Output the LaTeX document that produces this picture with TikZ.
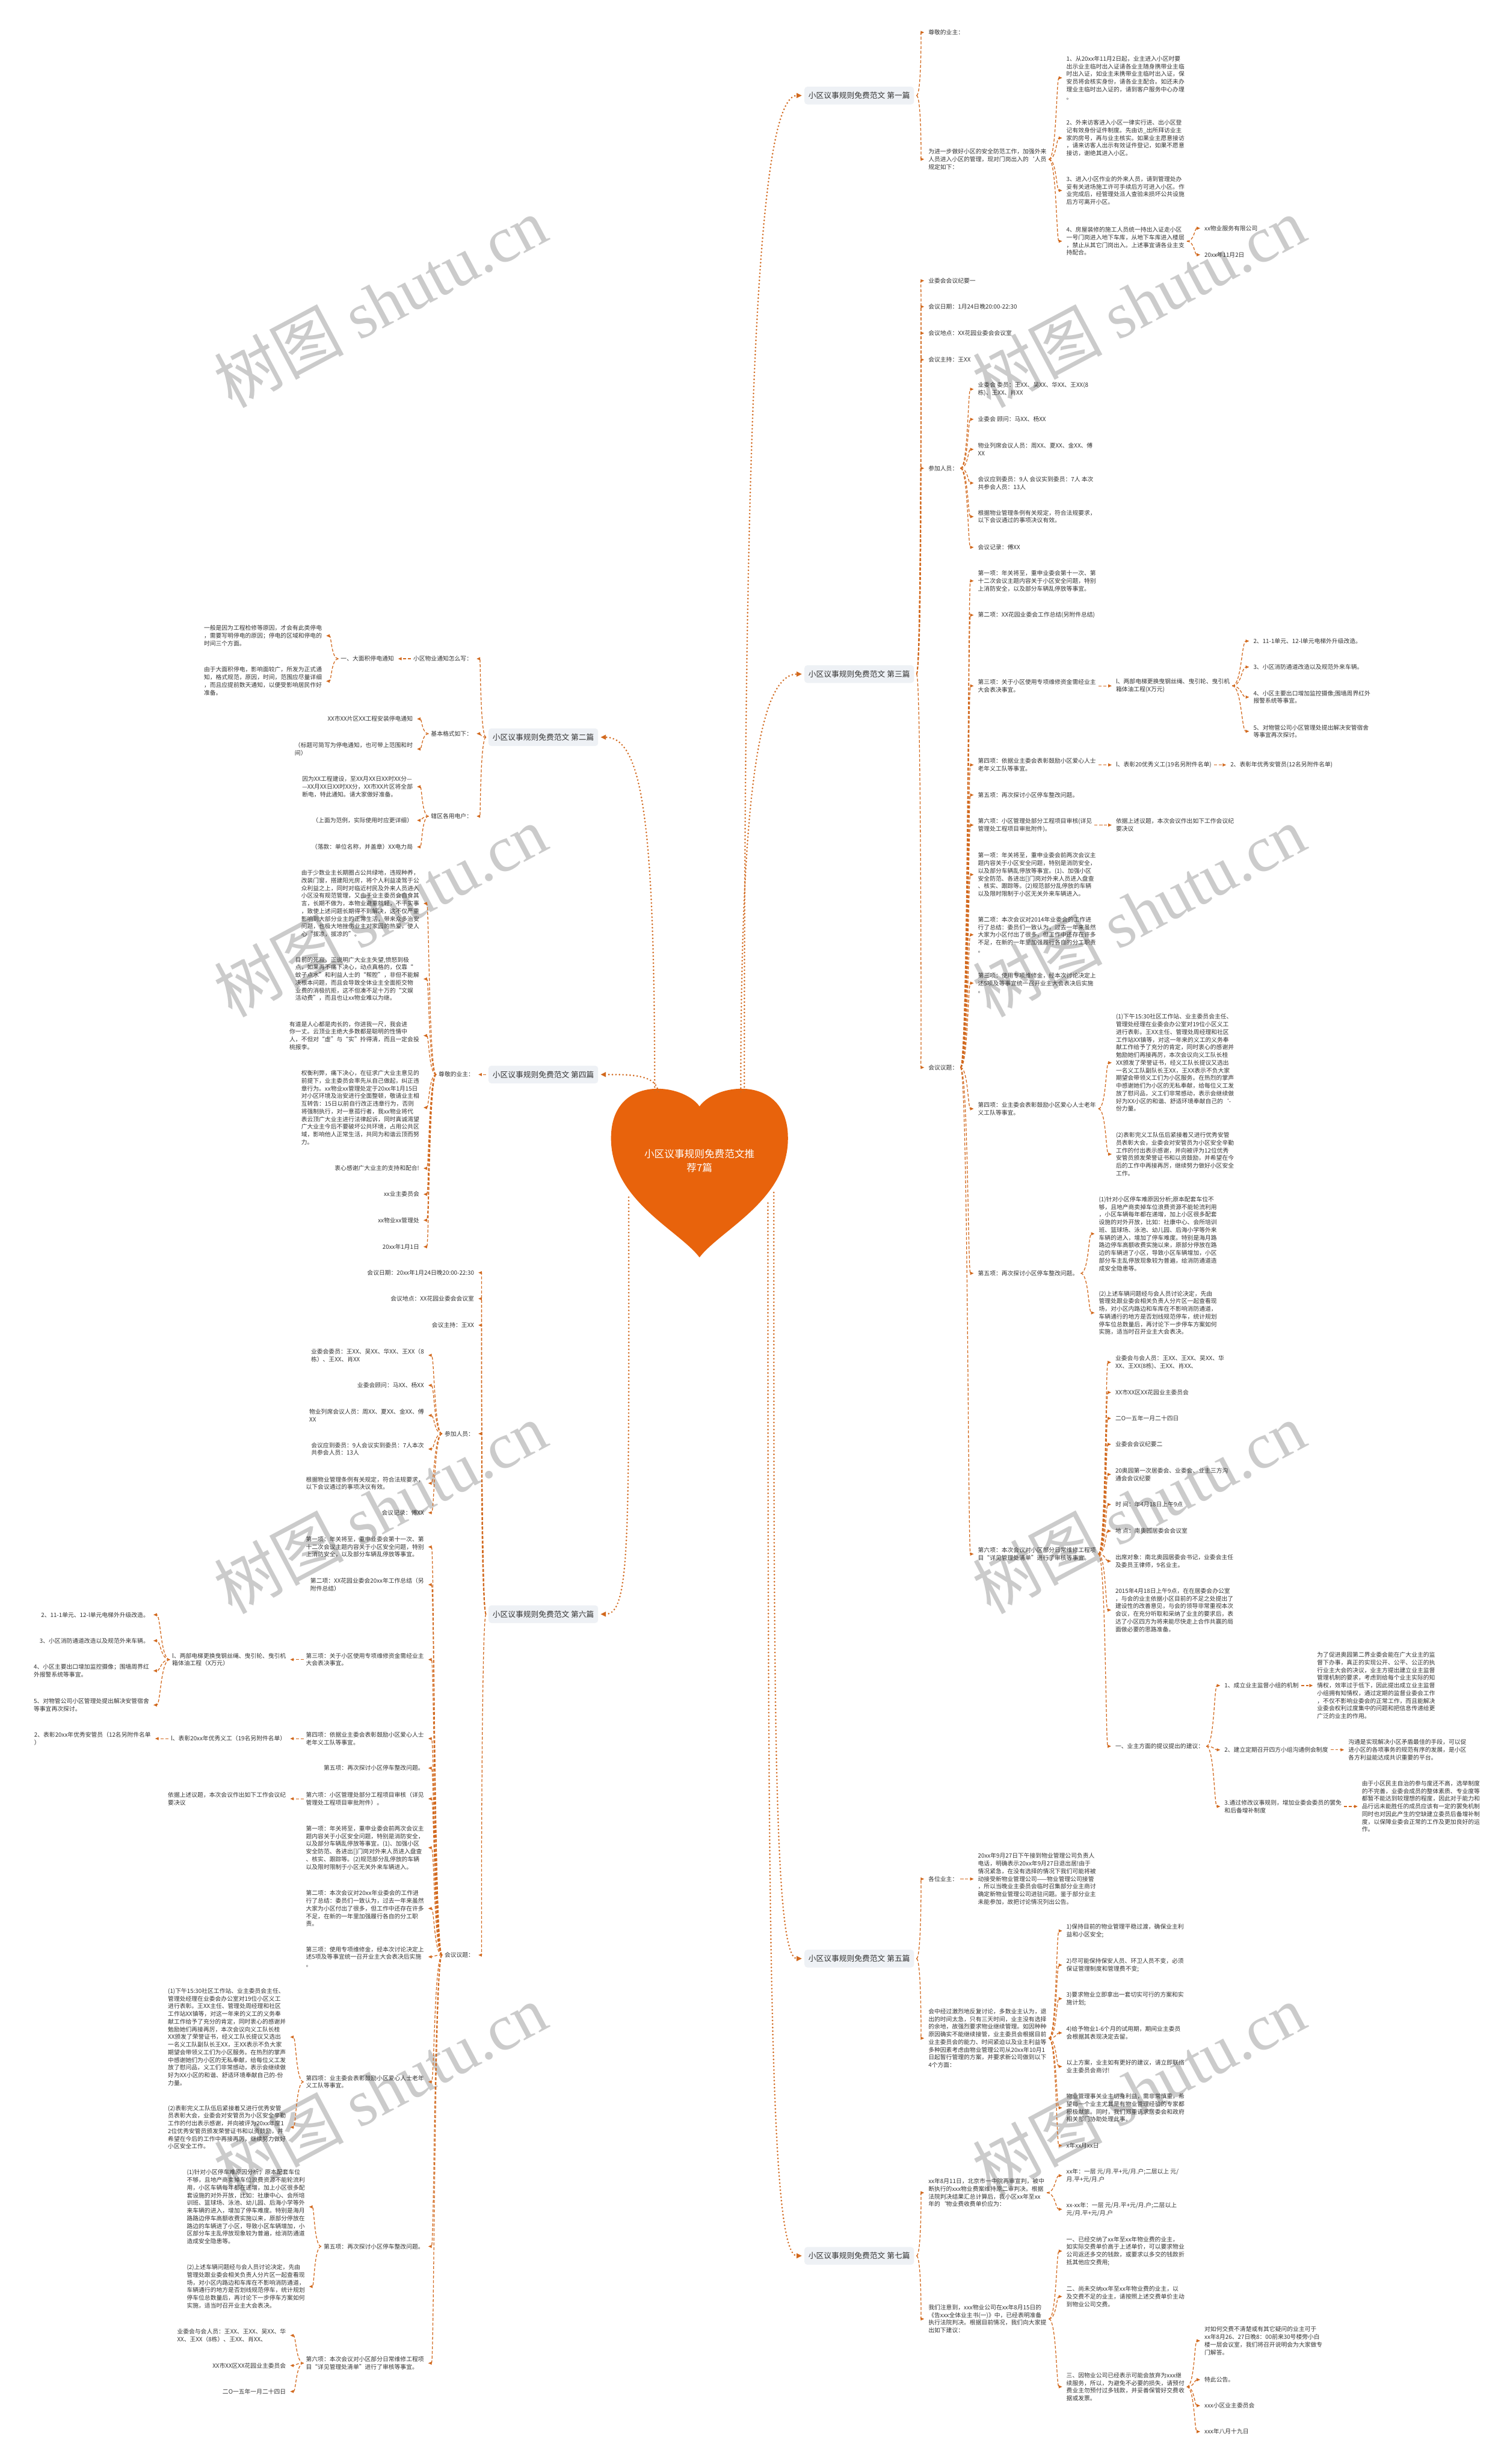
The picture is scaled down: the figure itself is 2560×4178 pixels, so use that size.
\documentclass[tikz,border=0pt]{standalone}
\usepackage{fontspec}
\setmainfont{Noto Sans CJK SC}
\newfontfamily\wmserif{Liberation Serif}
\usetikzlibrary{arrows.meta,calc}
\definecolor{linec}{HTML}{D2691E}
\definecolor{txtc}{HTML}{333333}
\definecolor{lblc}{HTML}{EEF1F5}
\definecolor{heartc}{HTML}{E8630C}
\definecolor{wmc}{HTML}{CBCBCB}
\newcommand\ftxt{\fontsize{10pt}{13pt}\selectfont}
\newcommand\flbl{\fontsize{13pt}{16pt}\selectfont}
\newcommand\fwm{\fontsize{110pt}{110pt}\selectfont}
\newcommand\RC[2]{\draw[conn] let \p1=(#1.east), \p2=(#2.west), \n1={(\x1+\x2)/2} in (\x1+4pt,\y1) .. controls (\n1,\y1) and (\n1,\y2) .. (\x2-7pt,\y2);}
\newcommand\LC[2]{\draw[conn] let \p1=(#1.west), \p2=(#2.east), \n1={(\x1+\x2)/2} in (\x1-4pt,\y1) .. controls (\n1,\y1) and (\n1,\y2) .. (\x2+7pt,\y2);}
\tikzset{
  txt/.style={inner sep=0pt, align=left, font=\ftxt, text=txtc},
  rt/.style={txt, anchor=west},
  lt/.style={txt, anchor=east},
  lbl/.style={fill=lblc, rounded corners=5pt, inner xsep=7pt, minimum height=30pt, font=\flbl, text=txtc},
  conn/.style={draw=linec, line width=1.3pt, dash pattern=on 5pt off 3pt, -{Triangle[length=6pt,width=5pt]}},
  hconn/.style={draw=linec, line width=3pt, line cap=round, dash pattern=on 0pt off 6pt, -{Triangle[length=9pt,width=8pt]}},
  wm/.style={font=\fwm, text=wmc, rotate=28, inner sep=0pt}
}
\begin{document}
\begin{tikzpicture}[x=1pt,y=1pt]
\fill[white] (0,0) rectangle (2560,-4178);
\useasboundingbox (0,0) rectangle (2560,-4178);

% watermarks
\node[wm] (wm1) at (645,-512) {树图 {\wmserif shutu.cn}};
\node[wm] (wm2) at (1931,-512) {树图 {\wmserif shutu.cn}};
\node[wm] (wm3) at (645,-1545) {树图 {\wmserif shutu.cn}};
\node[wm] (wm4) at (1931,-1545) {树图 {\wmserif shutu.cn}};
\node[wm] (wm5) at (645,-2557) {树图 {\wmserif shutu.cn}};
\node[wm] (wm6) at (1931,-2557) {树图 {\wmserif shutu.cn}};
\node[wm] (wm7) at (645,-3543) {树图 {\wmserif shutu.cn}};
\node[wm] (wm8) at (1931,-3543) {树图 {\wmserif shutu.cn}};

% heart
\fill[heartc] (1186,-1876) .. controls (1215,-1835) and (1336,-1822) .. (1336,-1930)
  .. controls (1336,-2035) and (1222,-2085) .. (1186,-2132)
  .. controls (1150,-2085) and (1036,-2035) .. (1036,-1930)
  .. controls (1036,-1822) and (1157,-1835) .. cycle;
\node[text=white, font=\fontsize{17pt}{23pt}\selectfont, align=center, inner sep=0pt] (H) at (1186,-1968) {小区议事规则免费范文推\\荐7篇};
\coordinate (hR1) at (1262,-1849);
\coordinate (hR3) at (1256,-1851);
\coordinate (hR5) at (1312,-2022);
\coordinate (hR7) at (1302,-2040);
\coordinate (hL2) at (1110,-1849);
\coordinate (hL4) at (1116,-1851);
\coordinate (hL6) at (1066,-2030);

% branch labels
\node[lbl, anchor=east] (R1) at (1550,-162) {小区议事规则免费范文 第一篇};
\node[lbl, anchor=east] (R3) at (1550,-1143) {小区议事规则免费范文 第三篇};
\node[lbl, anchor=east] (R5) at (1550,-3321) {小区议事规则免费范文 第五篇};
\node[lbl, anchor=east] (R7) at (1550,-3825) {小区议事规则免费范文 第七篇};
\node[lbl, anchor=west] (L2) at (828,-1250) {小区议事规则免费范文 第二篇};
\node[lbl, anchor=west] (L4) at (828,-1822) {小区议事规则免费范文 第四篇};
\node[lbl, anchor=west] (L6) at (828,-2737) {小区议事规则免费范文 第六篇};

\draw[hconn] (hR1) .. controls (1262,-700) and (1285,-162) .. ([xshift=-4pt]R1.west);
\draw[hconn] (hR3) .. controls (1256,-1400) and (1280,-1143) .. ([xshift=-4pt]R3.west);
\draw[hconn] (hR5) .. controls (1312,-2900) and (1312,-3321) .. ([xshift=-4pt]R5.west);
\draw[hconn] (hR7) .. controls (1302,-3300) and (1305,-3825) .. ([xshift=-4pt]R7.west);
\draw[hconn] (hL2) .. controls (1110,-1400) and (1090,-1250) .. ([xshift=4pt]L2.east);
\draw[hconn] (hL4) .. controls (1112,-1822) and (1070,-1822) .. ([xshift=4pt]L4.east);
\draw[hconn] (hL6) .. controls (1066,-2600) and (1070,-2737) .. ([xshift=4pt]L6.east);

% ===== Branch 1 =====
\node[rt] (a1) at (1574,-55) {尊敬的业主：};
\node[rt] (a2) at (1574,-270) {为进一步做好小区的安全防范工作，加强外来\\人员进入小区的管理，现对门岗出入的`人员\\规定如下：};
\node[rt] (a21) at (1808,-132) {1、从20xx年11月2日起，业主进入小区时要\\出示业主临时出入证请各业主随身携带业主临\\时出入证，如业主未携带业主临时出入证，保\\安员将会核实身份，请各业主配合。如还未办\\理业主临时出入证的，请到客户服务中心办理\\。};
\node[rt] (a22) at (1808,-234) {2、外来访客进入小区一律实行进、出小区登\\记有效身份证件制度。先由访\_出所拜访业主\\家的房号，再与业主核实。如果业主愿意接访\\，请来访客人出示有效证件登记，如果不愿意\\接访，谢绝其进入小区。};
\node[rt] (a23) at (1808,-323) {3、进入小区作业的外来人员，请到管理处办\\妥有关进场施工许可手续后方可进入小区。作\\业完成后，经管理处派人查验未损坏公共设施\\后方可离开小区。};
\node[rt] (a24) at (1808,-409) {4、房屋装修的施工人员统一持出入证走小区\\一号门岗进入地下车库，从地下车库进入楼层\\，禁止从其它门岗出入。上述事宜请各业主支\\持配合。};
\node[rt] (a241) at (2042,-387) {xx物业服务有限公司};
\node[rt] (a242) at (2042,-432) {20xx年11月2日};
\foreach \c in {a1,a2} {\RC{R1}{\c}}
\foreach \c in {a21,a22,a23,a24} {\RC{a2}{\c}}
\foreach \c in {a241,a242} {\RC{a24}{\c}}

% ===== Branch 3 =====
\node[rt] (b1) at (1574,-476) {业委会会议纪要一};
\node[rt] (b2) at (1574,-520) {会议日期：1月24日晚20:00-22:30};
\node[rt] (b3) at (1574,-565) {会议地点：XX花园业委会会议室};
\node[rt] (b4) at (1574,-610) {会议主持：王XX};
\node[rt] (b5) at (1574,-794) {参加人员：};
\node[rt] (b6) at (1574,-1810) {会议议题：};
\node[rt] (b51) at (1658,-660) {业委会 委员：王XX、吴XX、华XX、王XX(8\\栋)、王XX、肖XX};
\node[rt] (b52) at (1658,-711) {业委会 顾问：马XX、杨XX};
\node[rt] (b53) at (1658,-762) {物业列席会议人员：周XX、夏XX、金XX、傅\\XX};
\node[rt] (b54) at (1658,-819) {会议应到委员：9人 会议实到委员：7人 本次\\共参会人员：13人};
\node[rt] (b55) at (1658,-876) {根据物业管理条例有关规定，符合法规要求，\\以下会议通过的事项决议有效。};
\node[rt] (b56) at (1658,-928) {会议记录：傅XX};
\node[rt] (c1) at (1658,-985) {第一项：年关将至，重申业委会第十一次、第\\十二次会议主题内容关于小区安全问题，特别\\上消防安全，以及部分车辆乱停放等事宜。};
\node[rt] (c2) at (1658,-1043) {第二项：XX花园业委会工作总结(另附件总结)};
\node[rt] (c3) at (1658,-1163) {第三项：关于小区使用专项维修资金需经业主\\大会表决事宜。};
\node[rt] (c31) at (1892,-1163) {l、两部电梯更换曳钢丝绳、曳引轮、曳引机\\箱体油工程(X万元)};
\node[rt] (c311) at (2125,-1087) {2、11-1单元、12-l单元电梯外升级改造。};
\node[rt] (c312) at (2125,-1131) {3、小区消防通道改造以及规范外来车辆。};
\node[rt] (c313) at (2125,-1182) {4、小区主要出口增加监控摄像;围墙周界红外\\报警系统等事宜。};
\node[rt] (c314) at (2125,-1240) {5、对物管公司小区管理处提出解决安管宿舍\\等事宜再次探讨。};
\node[rt] (c4) at (1658,-1297) {第四项：依据业主委会表彰鼓励小区爱心人士\\老年义工队等事宜。};
\node[rt] (c41) at (1892,-1297) {l、表彰20优秀义工(19名另附件名单)};
\node[rt] (c411) at (2086,-1297) {2、表彰年优秀安管员(12名另附件名单)};
\node[rt] (c5) at (1658,-1348) {第五项：再次探讨小区停车整改问题。};
\node[rt] (c6) at (1658,-1399) {第六项：小区管理处部分工程项目审核(详见\\管理处工程项目审批附件)。};
\node[rt] (c61) at (1892,-1399) {依据上述议题，本次会议作出如下工作会议纪\\要决议};
\node[rt] (c7) at (1658,-1483) {第一项：年关将至，重申业委会前两次会议主\\题内容关于小区安全问题，特别是消防安全，\\以及部分车辆乱停放等事宜。(1)、加强小区\\安全防范、各进出{[]}门岗对外来人员进入盘查\\、核实、跟踪等。(2)规范部分乱停放的车辆\\以及限时限制于小区无关外来车辆进入。};
\node[rt] (c8) at (1658,-1585) {第二项：本次会议对2014年业委会的工作进\\行了总结：委员们一致认为，过去一年来虽然\\大家为小区付出了很多，但工作中还存在许多\\不足，在新的一年里加强履行各自的分工职责\\。};
\node[rt] (c9) at (1658,-1667) {第三项：使用专项维修金，经本次讨论决定上\\述5项及等事宜统一召开业主大会表决后实施\\。};
\node[rt] (c10) at (1658,-1880) {第四项：业主委会表彰鼓励小区爱心人士老年\\义工队等事宜。};
\node[rt] (c101) at (1892,-1802) {(1)下午15:30社区工作站、业主委员会主任、\\管理处经理在业委会办公室对19位小区义工\\进行表彰。王XX主任、管理处周经理和社区\\工作站XX镇等，对这一年来的义工的义务奉\\献工作给予了充分的肯定，同时衷心的感谢并\\勉励她们再接再厉，本次会议向义工队长桂\\XX颁发了荣誉证书，经义工队长提议又选出\\一名义工队副队长王XX，王XX表示不负大家\\期望会带领义工们为小区服务。在热烈的掌声\\中感谢她们为小区的无私奉献，给每位义工发\\放了慰问品，义工们非常感动，表示会继续做\\好为XX小区的和谐、舒适环境奉献自己的`-\\份力量。};
\node[rt] (c102) at (1892,-1957) {(2)表彰完义工队伍后紧接着又进行优秀安管\\员表彰大会，业委会对安管员为小区安全辛勤\\工作的付出表示感谢，并向被评为12位优秀\\安管员颁发荣誉证书和以资鼓励，并希望在今\\后的工作中再接再厉，继续努力做好小区安全\\工作。};
\node[rt] (c11) at (1658,-2159) {第五项：再次探讨小区停车整改问题。};
\node[rt] (c111) at (1863,-2092) {(1)针对小区停车难原因分析;原本配套车位不\\够，且地产商卖掉车位浪费资源不能轮流利用\\，小区车辆每年都在递增，加上小区很多配套\\设施的对外开放，比如：社康中心、会所培训\\班、篮球场、泳池、幼儿园、后海小学等外来\\车辆的进入，增加了停车难度。特别是海月路\\路边停车高额收费实施以来，原部分停放在路\\边的车辆进了小区，导致小区车辆增加，小区\\部分车主乱停放现象较为普遍，给消防通道造\\成安全隐患等。};
\node[rt] (c112) at (1863,-2226) {(2)上述车辆问题经与会人员讨论决定，先由\\管理处跟业委会相关负责人分片区一起查看现\\场，对小区内路边和车库在不影响消防通道，\\车辆通行的地方是否划线规范停车，统计规划\\停车位总数量后，再讨论下一步停车方案如何\\实施，适当时召开业主大会表决。};
\node[rt] (c12) at (1658,-2635) {第六项：本次会议对小区部分日常维修工程项\\目“详见管理处清单”进行了审核等事宜。};
\node[rt] (c121) at (1891,-2310) {业委会与会人员：王XX、王XX、吴XX、华\\XX、王XX(8栋)、王XX、肖XX、};
\node[rt] (c122) at (1891,-2361) {XX市XX区XX花园业主委员会};
\node[rt] (c123) at (1891,-2405) {二O一五年一月二十四日};
\node[rt] (c124) at (1891,-2449) {业委会会议纪要二};
\node[rt] (c125) at (1891,-2500) {20奥园第一次居委会、业委会、业主三方沟\\通会会议纪要};
\node[rt] (c126) at (1891,-2551) {时 间：年4月18日上午9点};
\node[rt] (c127) at (1891,-2596) {地 点：南奥园居委会会议室};
\node[rt] (c128) at (1891,-2647) {出席对象：南北奥园居委会书记，业委会主任\\及委员王律师，9名业主。};
\node[rt] (c129) at (1891,-2730) {2015年4月18日上午9点，在在居委会办公室\\，与会的业主依据小区目前的不足之处提出了\\建设性的改善意见，与会的领导非常重视本次\\会议，在充分听取和采纳了业主的要求后，表\\达了小区四方为将来能尽快走上合作共赢的局\\面做必要的思路准备。};
\node[rt] (c1210) at (1891,-2961) {一、业主方面的提议提出的建议：};
\node[rt] (d1) at (2076,-2858) {1、成立业主监督小组的机制};
\node[rt] (d11) at (2233,-2858) {为了促进奥园第二界业委会能在广大业主的监\\督下办事，真正的实现公开、公平、公正的执\\行业主大会的决议，业主方提出建立业主监督\\管理机制的要求，考虑到给每个业主实际的知\\情权，效率过于低下，因此提出成立业主监督\\小组拥有知情权，通过定期的监督业委会工作\\，不仅不影响业委会的正常工作，而且能解决\\业委会权利过度集中的问题和把信息传递给更\\广泛的业主的作用。};
\node[rt] (d2) at (2076,-2967) {2、建立定期召开四方小组沟通例会制度};
\node[rt] (d21) at (2286,-2967) {沟通是实现解决小区矛盾最佳的手段，可以促\\进小区的各项事务的规范有序的发展，是小区\\各方利益能达成共识重要的平台。};
\node[rt] (d3) at (2076,-3063) {3.通过修改议事规则，增加业委会委员的罢免\\和后备增补制度};
\node[rt] (d31) at (2309,-3063) {由于小区民主自治的参与度还不高，选举制度\\的不完善，业委会成员的整体素质、专业度等\\都暂不能达到较理想的程度，因此对于能力和\\品行远未能胜任的成员应该有一定的罢免机制\\同时也对因此产生的空缺建立委员后备增补制\\度，以保障业委会正常的工作及更加良好的运\\作。};
\foreach \c in {b1,b2,b3,b4,b5,b6} {\RC{R3}{\c}}
\foreach \c in {b51,b52,b53,b54,b55,b56} {\RC{b5}{\c}}
\foreach \c in {c1,c2,c3,c4,c5,c6,c7,c8,c9,c10,c11,c12} {\RC{b6}{\c}}
\RC{c3}{c31}
\foreach \c in {c311,c312,c313,c314} {\RC{c31}{\c}}
\RC{c4}{c41} \RC{c41}{c411}
\RC{c6}{c61}
\RC{c10}{c101} \RC{c10}{c102}
\RC{c11}{c111} \RC{c11}{c112}
\foreach \c in {c121,c122,c123,c124,c125,c126,c127,c128,c129,c1210} {\RC{c12}{\c}}
\foreach \c in {d1,d2,d3} {\RC{c1210}{\c}}
\RC{d1}{d11} \RC{d2}{d21} \RC{d3}{d31}

% ===== Branch 5 =====
\node[rt] (e1) at (1574,-3186) {各位业主：};
\node[rt] (e11) at (1658,-3186) {20xx年9月27日下午接到物业管理公司负责人\\电话，明确表示20xx年9月27日退出居!由于\\情况紧急，在没有选择的情况下我们可能将被\\动接受新物业管理公司——物业管理公司接管\\，所以当晚业主委员会临时召集部分业主商讨\\确定新物业管理公司进驻问题。鉴于部分业主\\未能参加，故把讨论情况列出公告。};
\node[rt] (e2) at (1574,-3456) {会中经过激烈地反复讨论，多数业主认为，退\\出的时间太急，只有三天时间，业主没有选择\\的余地，故强烈要求物业继续管理。如因种种\\原因确实不能继续接管，业主委员会根据目前\\业主委员会的能力、时间紧迫以及业主利益等\\多种因素考虑由物业管理公司从20xx年10月1\\日起暂行管理的方案，并要求新公司做到以下\\4个方面：};
\node[rt] (e21) at (1808,-3274) {1)保持目前的物业管理平稳过渡，确保业主利\\益和小区安全;};
\node[rt] (e22) at (1808,-3332) {2)尽可能保持保安人员、环卫人员不变，必须\\保证管理制度和管理费不变;};
\node[rt] (e23) at (1808,-3389) {3)要求物业立即拿出一套切实可行的方案和实\\施计划;};
\node[rt] (e24) at (1808,-3447) {4)给予物业1-6个月的试用期，期间业主委员\\会根据其表现决定去留。};
\node[rt] (e25) at (1808,-3504) {以上方案，业主如有更好的建议，请立即联络\\业主委员会商讨!};
\node[rt] (e26) at (1808,-3574) {物业管理事关业主切身利益，需非常慎重，希\\望每一个业主尤其是有物业管理经验的专家都\\积极献策。同时，我们郑重请求居委会和政府\\相关部门协助处理此事。};
\node[rt] (e27) at (1808,-3638) {x年xx月xx日};
\foreach \c in {e1,e2} {\RC{R5}{\c}}
\RC{e1}{e11}
\foreach \c in {e21,e22,e23,e24,e25,e26,e27} {\RC{e2}{\c}}

% ===== Branch 7 =====
\node[rt] (f1) at (1574,-3718) {xx年8月11日，北京市一中院再审宣判，被中\\断执行的xxx物业费案维持原二审判决。根据\\法院判决结果汇总计算后，我小区xx年至xx\\年的`物业费收费单价应为：};
\node[rt] (f11) at (1808,-3689) {xx年：一层 元/月.平+元/月.户;二层以上 元/\\月.平+元/月.户};
\node[rt] (f12) at (1808,-3746) {xx-xx年：一层 元/月.平+元/月.户;二层以上\\元/月.平+元/月.户};
\node[rt] (f2) at (1574,-3932) {我们注意到，xxx物业公司在xx年8月15日的\\《告xxx全体业主书(一)》中，已经表明准备\\执行法院判决。根据目前情况，我们向大家提\\出如下建议：};
\node[rt] (f21) at (1808,-3817) {一、已经交纳了xx年至xx年物业费的业主，\\如实际交费单价高于上述单价，可以要求物业\\公司返还多交的钱款，或要求以多交的钱款折\\抵其他应交费用;};
\node[rt] (f22) at (1808,-3894) {二、尚未交纳xx年至xx年物业费的业主，以\\及交费不足的业主，请按照上述交费单价主动\\到物业公司交费。};
\node[rt] (f23) at (1808,-4047) {三、因物业公司已经表示可能会放弃为xxx继\\续服务，所以，为避免不必要的损失，请预付\\费业主勿预付过多钱款，并妥善保管好交费收\\据或发票。};
\node[rt] (f231) at (2042,-3969) {对如何交费不清楚或有其它疑问的业主可于\\xx年8月26、27日晚8：00前来30号楼旁小白\\楼一层会议室，我们将召开说明会为大家做专\\门解答。};
\node[rt] (f232) at (2042,-4035) {特此公告。};
\node[rt] (f233) at (2042,-4079) {xxx小区业主委员会};
\node[rt] (f234) at (2042,-4123) {xxx年八月十九日};
\foreach \c in {f1,f2} {\RC{R7}{\c}}
\RC{f1}{f11} \RC{f1}{f12}
\foreach \c in {f21,f22,f23} {\RC{f2}{\c}}
\foreach \c in {f231,f232,f233,f234} {\RC{f23}{\c}}

% ===== Branch 2 (left) =====
\node[lt] (g1) at (801,-1117) {小区物业通知怎么写：};
\node[lt] (g11) at (668,-1117) {一、大面积停电通知};
\node[lt] (g111) at (546,-1078) {一般是因为工程检修等原因，才会有此类停电\\，需要写明停电的原因；停电的区域和停电的\\时间三个方面。};
\node[lt] (g112) at (546,-1155) {由于大面积停电，影响面较广，所发为正式通\\知，格式规范，原因，时间，范围应尽量详细\\，而且应提前数天通知，以便受影响居民作好\\准备。};
\node[lt] (g2) at (801,-1244) {基本格式如下：};
\node[lt] (g21) at (700,-1219) {XX市XX片区XX工程安装停电通知};
\node[lt] (g22) at (700,-1270) {（标题可简写为停电通知，也可带上范围和时\\间）};
\node[lt] (g3) at (801,-1384) {辖区各用电户：};
\node[lt] (g31) at (700,-1334) {因为XX工程建设，至XX月XX日XX时XX分—\\—XX月XX日XX时XX分，XX市XX片区将全部\\断电，特此通知。请大家做好准备。};
\node[lt] (g32) at (700,-1391) {（上面为范例，实际使用时应更详细）};
\node[lt] (g33) at (700,-1436) {（落款：单位名称，并盖章）XX电力局};
\foreach \c in {g1,g2,g3} {\LC{L2}{\c}}
\LC{g1}{g11}
\LC{g11}{g111} \LC{g11}{g112}
\LC{g2}{g21} \LC{g2}{g22}
\foreach \c in {g31,g32,g33} {\LC{g3}{\c}}

% ===== Branch 4 (left) =====
\node[lt] (h1) at (804,-1822) {尊敬的业主：};
\node[lt] (h11) at (711,-1532) {由于少数业主长期圈占公共绿地，违规种养，\\改装门窗，搭建阳光房，将个人利益凌驾于公\\众利益之上，同时对临近村民及外来人员进入\\小区没有规范管理，又由于业主委员会自食其\\言，长期不做为，本物业避重就轻，不干实事\\，致使上述问题长期得不到解决，这不仅严重\\影响到大部分业主的正常生活，带来众多治安\\问题，也极大地挫伤业主对家园的热爱，使人\\心“拔凉，拔凉的”。};
\node[lt] (h12) at (711,-1660) {目前的死寂，正说明广大业主失望,愤怒到极\\点，如果再不痛下决心，动点真格的，仅靠“\\蚊子点水”和利益人士的“帮腔”，非但不能解\\决根本问题，而且会导致全体业主全面拒交物\\业费的消极抗拒，这不但凑不足十万的“文娱\\活动费”，而且也让xx物业难以为继。};
\node[lt] (h13) at (711,-1756) {有道是人心都是肉长的，你进我一尺，我会进\\你一丈。云顶业主绝大多数都是聪明的性情中\\人，不但对“虚”与“实”拎得清，而且一定会投\\桃报李。};
\node[lt] (h14) at (711,-1878) {权衡利弊，痛下决心，在征求广大业主意见的\\前提下，业主委员会率先从自己做起，纠正违\\章行为。xx物业xx管理处定于20xx年1月15日\\对小区环境及治安进行全面整顿，敬请业主相\\互转告：15日以前自行改正违章行为，否则\\将强制执行，对一意孤行者，我xx物业将代\\表云顶广大业主进行法律起诉，同时真诚渴望\\广大业主今后不要破坏公共环境，占用公共区\\域，影响他人正常生活，共同为和谐云顶而努\\力。};
\node[lt] (h15) at (711,-1981) {衷心感谢广大业主的支持和配合!};
\node[lt] (h16) at (711,-2025) {xx业主委员会};
\node[lt] (h17) at (711,-2069) {xx物业xx管理处};
\node[lt] (h18) at (711,-2114) {20xx年1月1日};
\LC{L4}{h1}
\foreach \c in {h11,h12,h13,h14,h15,h16,h17,h18} {\LC{h1}{\c}}

% ===== Branch 6 (left) =====
\node[lt] (k1) at (804,-2158) {会议日期：20xx年1月24日晚20:00-22:30};
\node[lt] (k2) at (804,-2202) {会议地点：XX花园业委会会议室};
\node[lt] (k3) at (804,-2247) {会议主持：王XX};
\node[lt] (k4) at (804,-2431) {参加人员：};
\node[lt] (k5) at (804,-3315) {会议议题：};
\node[lt] (k41) at (719,-2298) {业委会委员：王XX、吴XX、华XX、王XX（8\\栋）、王XX、肖XX};
\node[lt] (k42) at (719,-2349) {业委会顾问：马XX、杨XX};
\node[lt] (k43) at (719,-2400) {物业列席会议人员：周XX、夏XX、金XX、傅\\XX};
\node[lt] (k44) at (719,-2457) {会议应到委员：9人会议实到委员：7人本次\\共参会人员：13人};
\node[lt] (k45) at (719,-2515) {根据物业管理条例有关规定，符合法规要求，\\以下会议通过的事项决议有效。};
\node[lt] (k46) at (719,-2565) {会议记录：傅XX};
\node[lt] (m1) at (719,-2623) {第一项：年关将至，重申业委会第十一次、第\\十二次会议主题内容关于小区安全问题，特别\\上消防安全，以及部分车辆乱停放等事宜。};
\node[lt] (m2) at (719,-2687) {第二项：XX花园业委会20xx年工作总结（另\\附件总结）};
\node[lt] (m3) at (719,-2814) {第三项：关于小区使用专项维修资金需经业主\\大会表决事宜。};
\node[lt] (m31) at (485,-2814) {l、两部电梯更换曳钢丝绳、曳引轮、曳引机\\箱体油工程（X万元）};
\node[lt] (m311) at (253,-2738) {2、11-1单元、12-l单元电梯外升级改造。};
\node[lt] (m312) at (253,-2782) {3、小区消防通道改造以及规范外来车辆。};
\node[lt] (m313) at (253,-2833) {4、小区主要出口增加监控摄像；围墙周界红\\外报警系统等事宜。};
\node[lt] (m314) at (253,-2891) {5、对物管公司小区管理处提出解决安管宿舍\\等事宜再次探讨。};
\node[lt] (m4) at (719,-2948) {第四项：依据业主委会表彰鼓励小区爱心人士\\老年义工队等事宜。};
\node[lt] (m41) at (485,-2948) {l、表彰20xx年优秀义工（19名另附件名单）};
\node[lt] (m411) at (256,-2948) {2、表彰20xx年优秀安管员（12名另附件名单\\）};
\node[lt] (m5) at (719,-2998) {第五项：再次探讨小区停车整改问题。};
\node[lt] (m6) at (719,-3050) {第六项：小区管理处部分工程项目审核（详见\\管理处工程项目审批附件）。};
\node[lt] (m61) at (485,-3050) {依据上述议题，本次会议作出如下工作会议纪\\要决议};
\node[lt] (m7) at (719,-3133) {第一项：年关将至，重申业委会前两次会议主\\题内容关于小区安全问题，特别是消防安全，\\以及部分车辆乱停放等事宜。(1)、加强小区\\安全防范、各进出{[]}门岗对外来人员进入盘查\\、核实、跟踪等。(2)规范部分乱停放的车辆\\以及限时限制于小区无关外来车辆进入。};
\node[lt] (m8) at (719,-3236) {第二项：本次会议对20xx年业委会的工作进\\行了总结：委员们一致认为，过去一年来虽然\\大家为小区付出了很多，但工作中还存在许多\\不足，在新的一年里加强履行各自的分工职\\责。};
\node[lt] (m9) at (719,-3318) {第三项：使用专项维修金，经本次讨论决定上\\述5项及等事宜统一召开业主大会表决后实施\\。};
\node[lt] (m10) at (719,-3530) {第四项：业主委会表彰鼓励小区爱心人士老年\\义工队等事宜。};
\node[lt] (m101) at (485,-3454) {(1)下午15:30社区工作站、业主委员会主任、\\管理处经理在业委会办公室对19位小区义工\\进行表彰。王XX主任、管理处周经理和社区\\工作站XX镇等，对这一年来的义工的义务奉\\献工作给予了充分的肯定，同时衷心的感谢并\\勉励她们再接再厉，本次会议向义工队长桂\\XX颁发了荣誉证书，经义工队长提议又选出\\一名义工队副队长王XX，王XX表示不负大家\\期望会带领义工们为小区服务。在热烈的掌声\\中感谢她们为小区的无私奉献，给每位义工发\\放了慰问品，义工们非常感动，表示会继续做\\好为XX小区的和谐、舒适环境奉献自己的-份\\力量。};
\node[lt] (m102) at (485,-3607) {(2)表彰完义工队伍后紧接着又进行优秀安管\\员表彰大会，业委会对安管员为小区安全辛勤\\工作的付出表示感谢，并向被评为20xx年度1\\2位优秀安管员颁发荣誉证书和以资鼓励，并\\希望在今后的工作中再接再厉，继续努力做好\\小区安全工作。};
\node[lt] (m11) at (719,-3809) {第五项：再次探讨小区停车整改问题。};
\node[lt] (m111) at (517,-3742) {(1)针对小区停车难原因分析；原本配套车位\\不够，且地产商卖掉车位浪费资源不能轮流利\\用，小区车辆每年都在递增，加上小区很多配\\套设施的对外开放，比如：社康中心、会所培\\训班、篮球场、泳池、幼儿园、后海小学等外\\来车辆的进入，增加了停车难度。特别是海月\\路路边停车高额收费实施以来，原部分停放在\\路边的车辆进了小区，导致小区车辆增加，小\\区部分车主乱停放现象较为普遍，给消防通道\\造成安全隐患等。};
\node[lt] (m112) at (517,-3877) {(2)上述车辆问题经与会人员讨论决定，先由\\管理处跟业委会相关负责人分片区一起查看现\\场，对小区内路边和车库在不影响消防通道，\\车辆通行的地方是否划线规范停车，统计规划\\停车位总数量后，再讨论下一步停车方案如何\\实施，适当时召开业主大会表决。};
\node[lt] (m12) at (719,-4007) {第六项：本次会议对小区部分日常维修工程项\\目“详见管理处清单”进行了审核等事宜。};
\node[lt] (m121) at (485,-3960) {业委会与会人员：王XX、王XX、吴XX、华\\XX、王XX（8栋）、王XX、肖XX、};
\node[lt] (m122) at (485,-4011) {XX市XX区XX花园业主委员会};
\node[lt] (m123) at (485,-4055) {二O一五年一月二十四日};
\foreach \c in {k1,k2,k3,k4,k5} {\LC{L6}{\c}}
\foreach \c in {k41,k42,k43,k44,k45,k46} {\LC{k4}{\c}}
\foreach \c in {m1,m2,m3,m4,m5,m6,m7,m8,m9,m10,m11,m12} {\LC{k5}{\c}}
\LC{m3}{m31}
\foreach \c in {m311,m312,m313,m314} {\LC{m31}{\c}}
\LC{m4}{m41} \LC{m41}{m411}
\LC{m6}{m61}
\LC{m10}{m101} \LC{m10}{m102}
\LC{m11}{m111} \LC{m11}{m112}
\foreach \c in {m121,m122,m123} {\LC{m12}{\c}}
\end{tikzpicture}
\end{document}
